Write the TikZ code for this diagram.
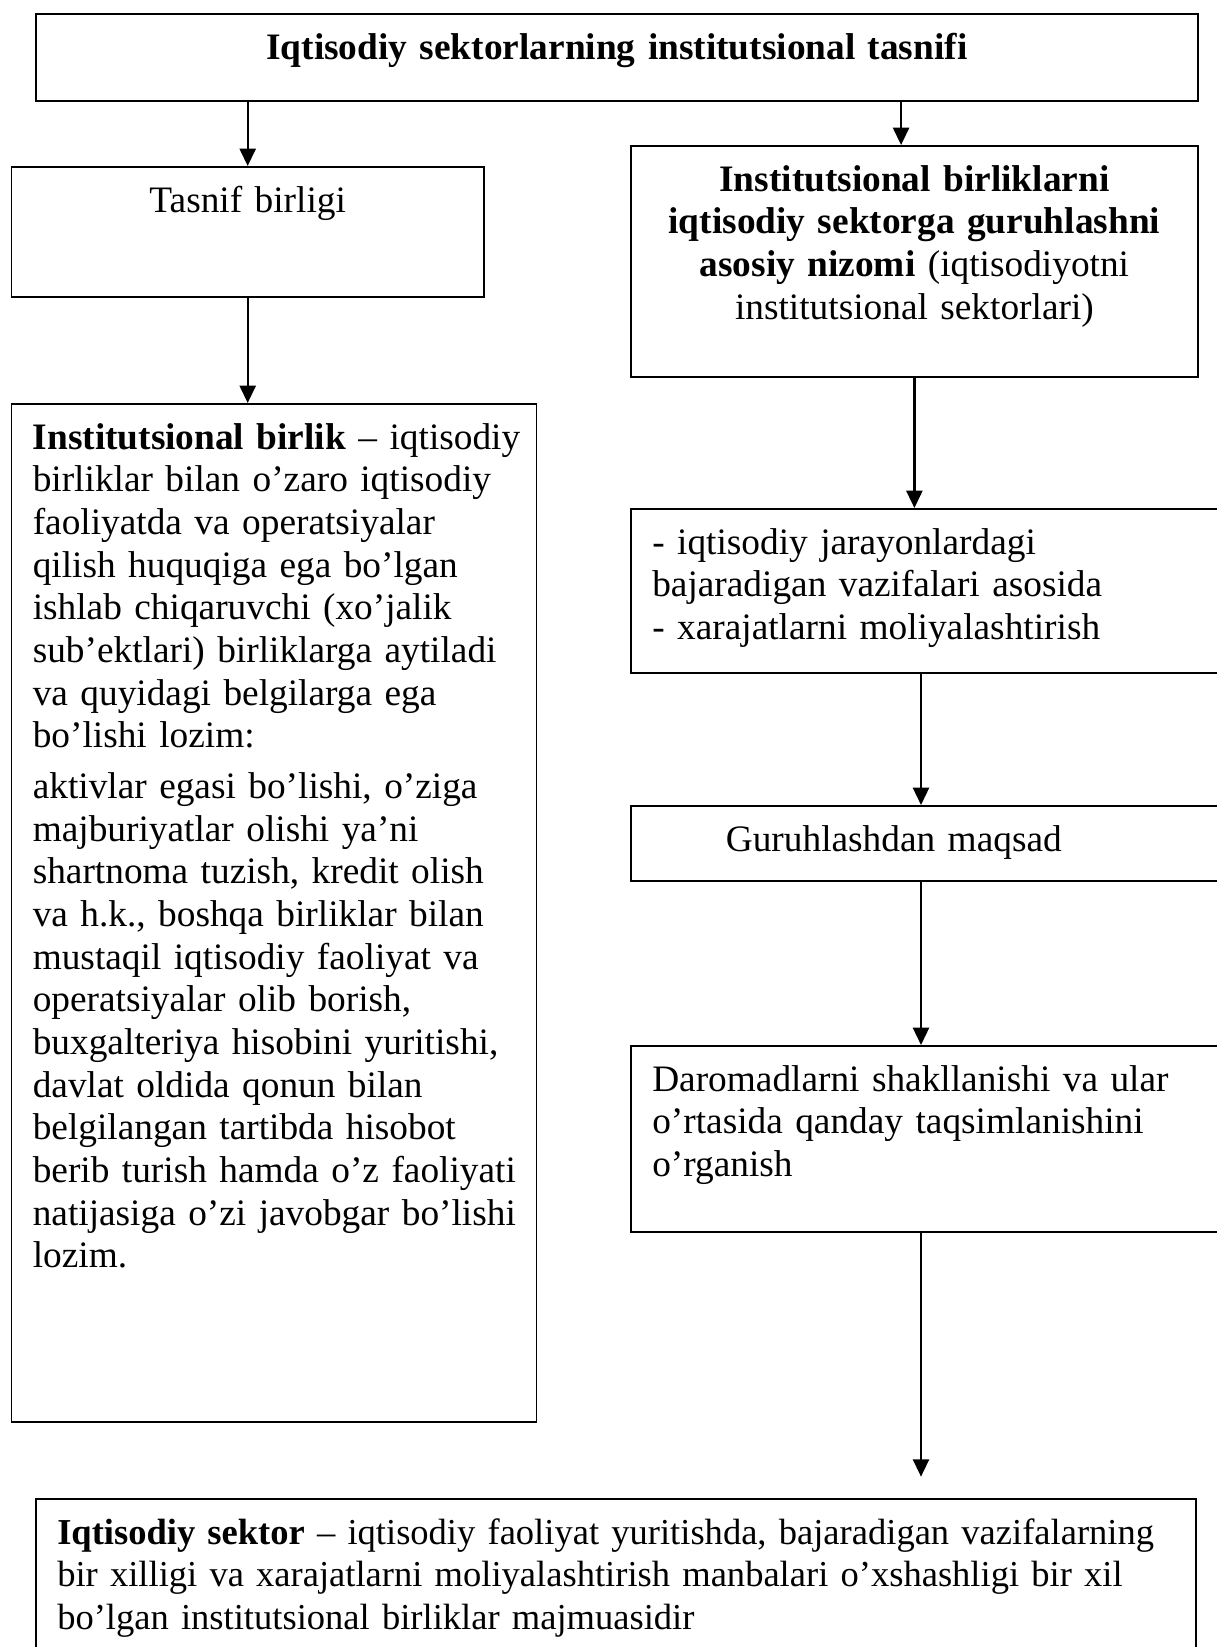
\documentclass[tikz,border=0pt]{standalone}
\usepackage{fontspec}
\setmainfont{Liberation Serif}
\usetikzlibrary{arrows.meta}
\newcommand{\rows}[1]{\begin{tabular}[t]{@{}l@{}}#1\end{tabular}}
\begin{document}
\begin{tikzpicture}[x=0.375pt,y=-0.375pt,
    cell/.style={draw,line width=0.7pt,anchor=north west,inner xsep=8pt,inner ysep=6pt,
      text height=11pt,font=\fontsize{14pt}{16pt}\selectfont}]
  \useasboundingbox (0,0) rectangle (1216,1647);
  \draw
    (35,13) node[cell,align=center,text width=419.75pt,text depth=9.6pt] (top)
      {\textbf{Iqtisodiy sektorlarning institutsional tasnifi}}
    (10.5,166) node[cell,align=center,text width=161.2pt,text depth=25.75pt] (tasnif)
      {Tasnif birligi}
    (10.5,403) node[cell,align=left,text width=180.9pt,text depth=358.75pt] (birlik)
      {\rows{\textbf{Institutsional birlik} – iqtisodiy\\
       birliklar bilan o’zaro iqtisodiy\\
       faoliyatda va operatsiyalar\\
       qilish huquqiga ega bo’lgan\\
       ishlab chiqaruvchi (xo’jalik\\
       sub’ektlari) birliklarga aytiladi\\
       va quyidagi belgilarga ega\\
       bo’lishi lozim:\\[3pt]
       aktivlar egasi bo’lishi, o’ziga\\
       majburiyatlar olishi ya’ni\\
       shartnoma tuzish, kredit olish\\
       va h.k., boshqa birliklar bilan\\
       mustaqil iqtisodiy faoliyat va\\
       operatsiyalar olib borish,\\
       buxgalteriya hisobini yuritishi,\\
       davlat oldida qonun bilan\\
       belgilangan tartibda hisobot\\
       berib turish hamda o’z faoliyati\\
       natijasiga o’zi javobgar bo’lishi\\
       lozim.}}
    (630,145) node[cell,align=center,text width=196.6pt,text depth=63.6pt] (nizom)
      {\textbf{Institutsional birliklarni}\\
       \textbf{iqtisodiy sektorga guruhlashni}\\
       \textbf{asosiy nizomi} (iqtisodiyotni\\
       institutsional sektorlari)}
    (630,508) node[cell,align=left,text width=212.75pt,text depth=38.5pt] (vazifa)
      {\rows{- iqtisodiy jarayonlardagi\\
       bajaradigan vazifalari asosida\\
       - xarajatlarni moliyalashtirish}}
    (630,805) node[cell,align=left,text width=212.75pt,text depth=5.1pt] (maqsad)
      {\hspace*{27.6pt}Guruhlashdan maqsad}
    (630,1045) node[cell,align=left,text width=212.75pt,text depth=46.75pt] (daromad)
      {\rows{Daromadlarni shakllanishi va ular\\
       o’rtasida qanday taqsimlanishini\\
       o’rganish}}
    (35,1498) node[cell,align=left,text width=419pt,text depth=63.25pt,
        font=\fontsize{13.7pt}{16pt}\selectfont] (sektor)
      {\rows{\textbf{Iqtisodiy sektor} – iqtisodiy faoliyat yuritishda, bajaradigan vazifalarning\\
       bir xilligi va xarajatlarni moliyalashtirish manbalari o’xshashligi bir xil\\
       bo’lgan institutsional birliklar majmuasidir}};
  \coordinate (rx) at (921,0);
  \begin{scope}[line width=0.9pt,-{Triangle[length=6.5pt,width=6pt]}]
    \draw (top.south -| tasnif.north) to (tasnif.north);
    \draw ([xshift=-5pt]top.south -| nizom.north) to ([xshift=-5pt]nizom.north);
    \draw (tasnif.south) to (tasnif.south |- birlik.north);
    \draw (nizom.south) to (nizom.south |- vazifa.north);
    \draw (vazifa.south -| rx) to (maqsad.north -| rx);
    \draw (maqsad.south -| rx) to (daromad.north -| rx);
    \draw[shorten >=8pt] (daromad.south -| rx) to (sektor.north -| rx);
  \end{scope}
\end{tikzpicture}
\end{document}
